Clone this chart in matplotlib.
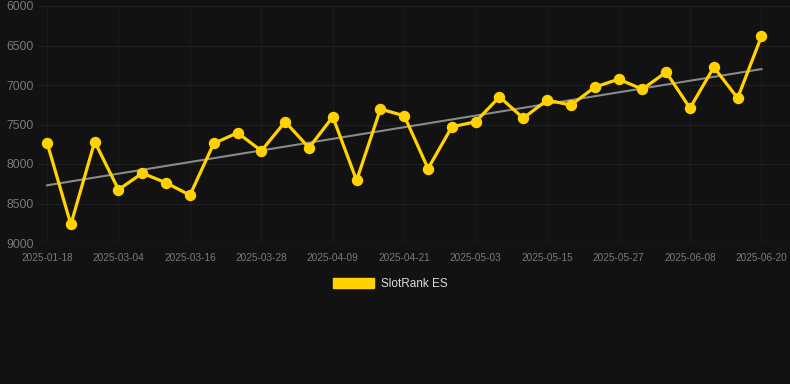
import matplotlib
matplotlib.use("Agg")
from matplotlib import pyplot as plt
from matplotlib.patches import Patch
import numpy as np

plt.rcParams["font.family"] = ["Liberation Sans", "DejaVu Sans"]

# tick dates (every third point is labelled)
tick_labels = ["2025-01-18", "2025-03-04", "2025-03-16", "2025-03-28", "2025-04-09",
               "2025-04-21", "2025-05-03", "2025-05-15", "2025-05-27", "2025-06-08",
               "2025-06-20"]
# SlotRank ES rank values (31 points)
ranks = [7730, 8765, 7718, 8325, 8116, 8238, 8395, 7740, 7605, 7833, 7465,
         7795, 7403, 8208, 7304, 7390, 8058, 7530, 7465, 7150, 7420, 7190,
         7255, 7028, 6926, 7053, 6837, 7293, 6774, 7166, 6385]

bg = "#121212"
gold = "#ffd200"

x = np.arange(len(ranks))
coef = np.polyfit(x, ranks, 1)
trend = np.polyval(coef, x)

fig = plt.figure(figsize=(7.9, 3.84), dpi=100, facecolor=bg)
ax = fig.add_axes([38/790, 1-243/384, 752/790, 237/384], facecolor=bg)

ax.plot(x, trend, color="#8a8a8a", lw=1.5, zorder=2)
ax.plot(x, ranks, color=gold, lw=2.3, marker="o", ms=7.2, zorder=3)

ax.set_ylim(9000, 6000)
ax.set_xlim(-0.38, 31.2)
ax.set_yticks([6000, 6500, 7000, 7500, 8000, 8500, 9000])
ax.set_xticks(x[::3])
ax.set_xticklabels(tick_labels)

ax.grid(True, axis="y", color="#202020", lw=0.8)
ax.grid(True, axis="x", color="#1b1b1b", lw=0.8)
ax.axhline(9000, color="#2a2a2a", lw=0.9, zorder=1)
ax.set_axisbelow(True)
for s in ax.spines.values():
    s.set_visible(False)
ax.tick_params(axis="y", length=0, pad=3, labelsize=8.8, labelcolor="#7a7a7a")
ax.tick_params(axis="x", length=0, pad=7, labelsize=7.2, labelcolor="#7a7a7a")

fig.legend(handles=[Patch(color=gold, label="SlotRank ES")], loc="center",
           bbox_to_anchor=(0.494, 1-284/384), frameon=False, fontsize=8.5,
           labelcolor="#dddddd", handlelength=3.5, handleheight=1.0,
           handletextpad=0.6)

fig.savefig("out.png", dpi=100, facecolor=bg)
